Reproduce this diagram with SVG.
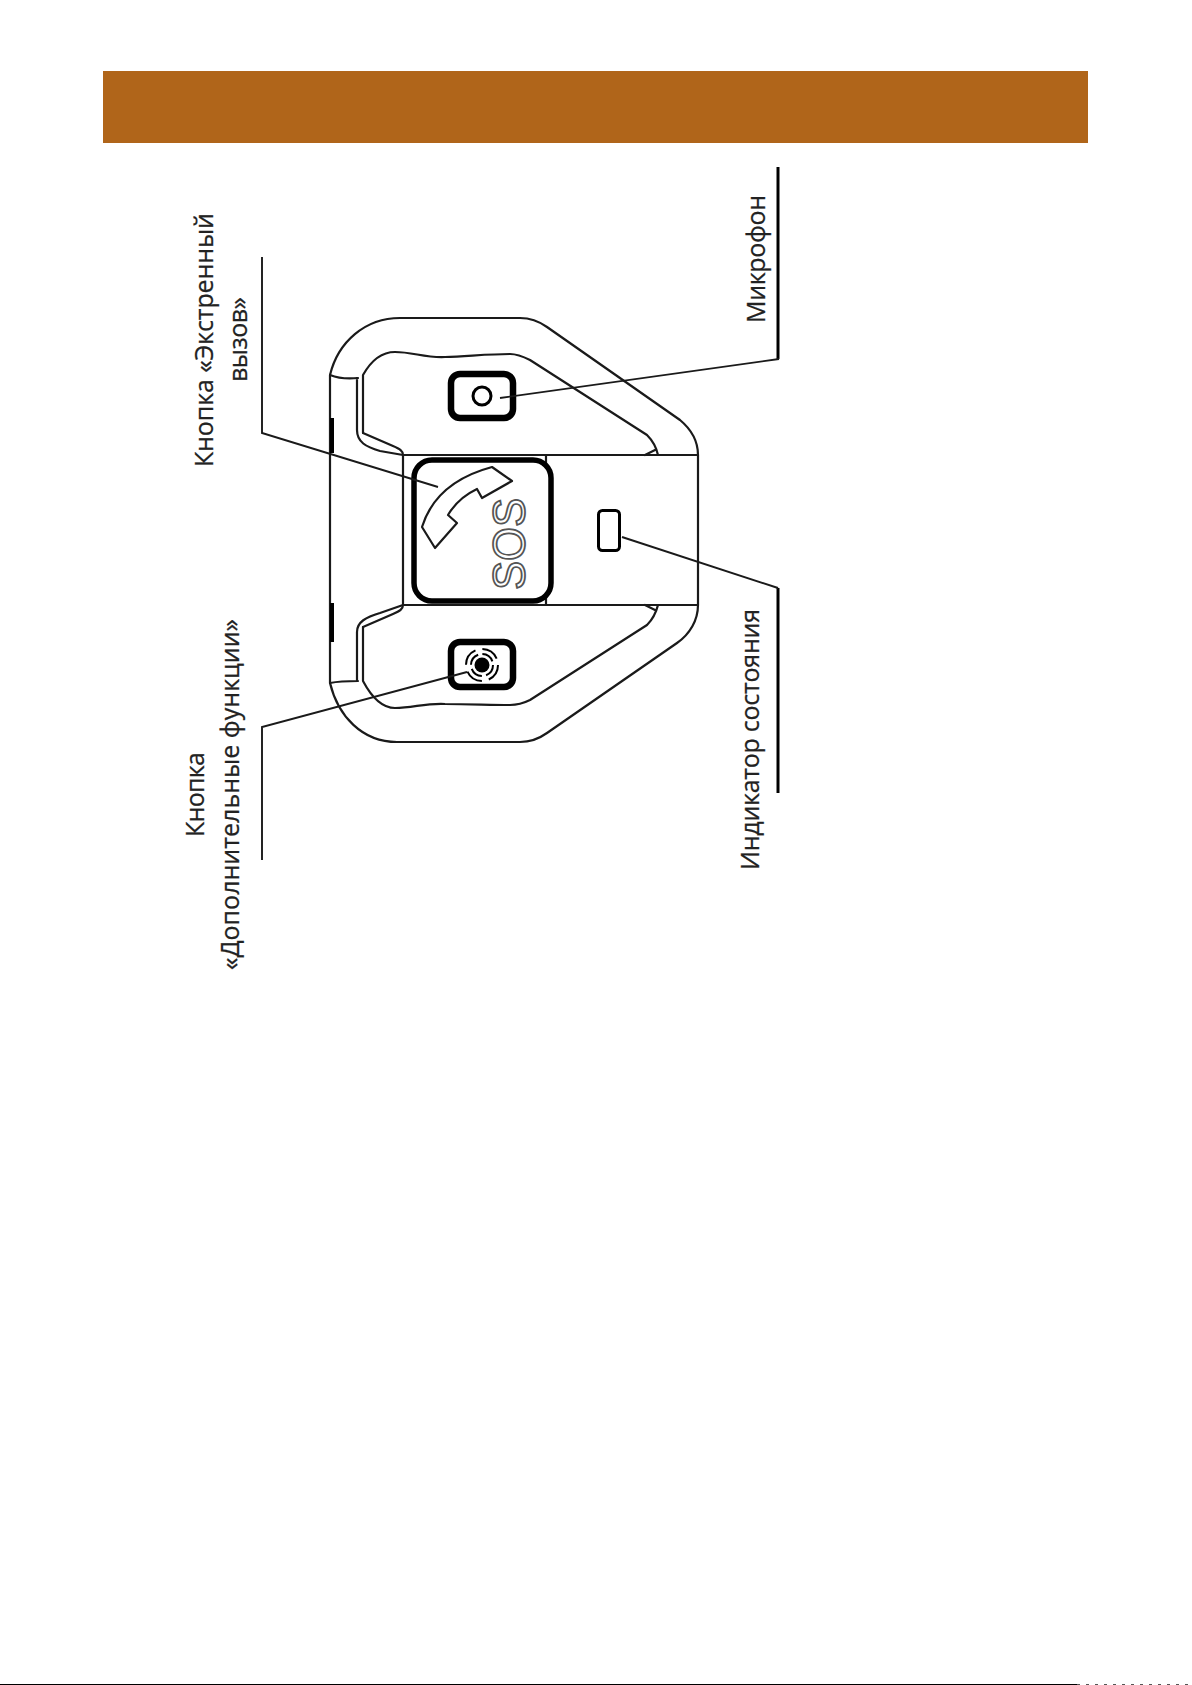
<svg xmlns="http://www.w3.org/2000/svg" width="1192" height="1685" viewBox="0 0 1192 1685">
<style>
.o{fill:none;stroke:#1a1a1a;stroke-width:2.2;stroke-linecap:round;stroke-linejoin:round}
.t{fill:none;stroke:#000;stroke-linejoin:round}
.c{fill:none;stroke:#1a1a1a;stroke-width:1.9}
.b{fill:none;stroke:#000;stroke-width:3}
.l{font-family:"Open Sans","Noto Sans",sans-serif;font-size:25px;fill:#222;stroke:#222;stroke-width:.25}
</style>
<rect width="1192" height="1685" fill="#fff"/>
<rect id="banner" x="103" y="71" width="985" height="72" fill="#b0651a"/>
<g id="body">
<path class="o" d="M330 375C338 342 365 318 400 318H520C532 318 540 322 547 327L680 420C692 430 698 442 698 455V605C698 620 690 634 677 643L547 733C540 738 532 742 520 742H397C362 742 338 716 330 683Z"/>
<path class="t" stroke-width="4" d="M332 418V453M332 603V642"/>
<path class="o" d="M330 375C340 379 348 379 358 378M357 378V430C357 442 366 447 380 451L403 455"/>
<path class="o" d="M363 433V375C372 359 382 352 395 352C413 352 425 358 445 357C470 356 490 354 510 354C518 354 524 357 530 360L647 435C652 440 656 446 658 455M645 455L655 450"/>
<path class="o" d="M363 433L393 446C400 449 403 451 403 455"/>
<path class="o" d="M330 683C340 681 348 681 358 681M357 681V632C357 622 366 617 380 613L403 605"/>
<path class="o" d="M363 627V681C372 698 382 708 395 708C413 708 425 703 445 704C470 704 490 705 510 705C518 705 524 703 530 700L647 625C652 620 656 613 658 605M645 605L655 610"/>
<path class="o" d="M363 627L393 614C400 611 403 609 403 605"/>
<path class="o" d="M403 455H698M403 455V605M403 605H698M546 455V463M546 597V605"/>
</g>
<g id="sos-button">
<rect class="t" stroke-width="5.5" x="414" y="460" width="137" height="141" rx="18"/>
<path class="o" d="M492 467L512 481L482 498L477 489Q458 498 448 515L457 523L435 548L422 527Q436 482 492 467Z"/>
<text transform="translate(525 590) rotate(-90)" textLength="92" lengthAdjust="spacingAndGlyphs" style="font-family:'Liberation Sans',sans-serif;font-size:47px;fill:#fff;stroke:#555;stroke-width:1.8">SOS</text>
</g>
<g id="mic-button">
<rect class="t" stroke-width="6.5" x="451" y="374" width="62" height="44" rx="9"/>
<circle class="t" stroke-width="3" cx="482" cy="396" r="9"/>
</g>
<g id="extra-button">
<rect class="t" stroke-width="6.5" x="451" y="642" width="62" height="45" rx="9"/>
<circle cx="482" cy="665" r="7.5" fill="#000"/>
<circle class="t" stroke-width="2" cx="482" cy="665" r="11" stroke-dasharray="13 4.3"/>
<circle class="t" stroke-width="2" cx="482" cy="665" r="16" stroke-dasharray="18 7.1"/>
</g>
<g id="indicator">
<rect class="t" stroke-width="3" x="598.5" y="510.5" width="21" height="40" rx="4"/>
</g>
<g id="connectors">
<path class="c" d="M262 257V433L438 487"/>
<path class="c" d="M262 860V727L467 672"/>
<path class="b" d="M778 167V359"/>
<path class="c" d="M779 359L500 398"/>
<path class="b" d="M778 793V588"/>
<path class="c" d="M778 588L622 537"/>
</g>
<g id="labels">
<text class="l" transform="translate(213 467) rotate(-90)" textLength="254">Кнопка «Экстренный</text>
<text class="l" transform="translate(247 382) rotate(-90)" textLength="85">вызов»</text>
<text class="l" transform="translate(204 837) rotate(-90)" textLength="85">Кнопка</text>
<text class="l" transform="translate(239 970) rotate(-90)" textLength="351">«Дополнительные функции»</text>
<text class="l" transform="translate(765 323) rotate(-90)" textLength="128">Микрофон</text>
<text class="l" transform="translate(759 870) rotate(-90)" textLength="261">Индикатор состояния</text>
</g>
<path id="bottom-rule" d="M0 1684.5H1077" stroke="#000" stroke-width="1"/>
<path id="bottom-noise" d="M1077 1684.5H1192" stroke="#555" stroke-width="1" stroke-dasharray="3 6"/>
</svg>
